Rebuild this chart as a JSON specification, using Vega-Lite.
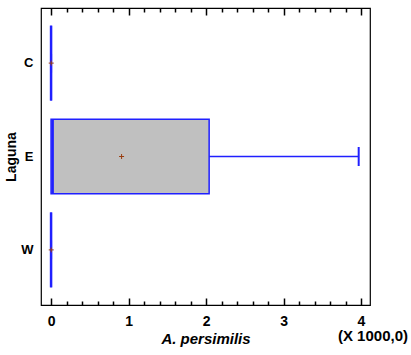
{
  "$schema": "https://vega.github.io/schema/vega-lite/v6.json",
  "width": 329,
  "height": 297,
  "autosize": {"type": "none"},
  "padding": {"left": 41, "top": 8, "right": 41, "bottom": 50},
  "background": "white",
  "config": {
    "view": {"stroke": "black", "strokeWidth": 1.2},
    "font": "Liberation Sans",
    "axis": {"grid": false, "domain": false, "ticks": true, "tickColor": "black", "tickWidth": 1.5, "tickOpacity": 1, "labelColor": "black", "titleColor": "black"}
  },
  "title": {"text": "(X 1000,0)", "orient": "bottom", "anchor": "end", "frame": "group", "fontSize": 15, "fontWeight": "bold", "font": "Liberation Sans", "color": "black", "dx": 38, "dy": -17, "offset": 0},
  "data": {
    "values": [
      {"Laguna": "C", "min": 0, "q1": 0, "median": 0, "q3": 0, "max": 0, "mean": 0.002},
      {"Laguna": "E", "min": 0, "q1": 0, "median": 0.02, "q3": 2.04, "max": 3.97, "mean": 0.91},
      {"Laguna": "W", "min": 0, "q1": 0, "median": 0, "q3": 0, "max": 0, "mean": 0.002}
    ]
  },
  "layer": [
    {
      "mark": {"type": "rule", "color": "#2020ff", "strokeWidth": 1.5},
      "encoding": {
        "y": {
          "field": "Laguna", "type": "nominal", "sort": ["C", "E", "W"],
          "scale": {"paddingInner": 0.2, "paddingOuter": 0.19},
          "axis": {"title": "Laguna", "ticks": false, "labelFontWeight": "bold", "labelFontSize": 13, "labelPadding": 8, "titleFontSize": 14, "titleFontWeight": "bold", "titlePadding": 2}
        },
        "x": {
          "field": "min", "type": "quantitative",
          "scale": {"domain": [-0.13, 4.116], "nice": false, "zero": false},
          "axis": {
            "orient": "bottom",
            "values": [0, 1, 2, 3, 4],
            "format": "d",
            "ticks": true,
            "tickSize": -7,
            "labelOverlap": false, "labelFlush": false,
            "labelFontSize": 14, "labelFontWeight": "bold", "labelPadding": 16,
            "title": "A. persimilis", "titleFontStyle": "italic", "titleFontWeight": "bold", "titleFontSize": 15, "titlePadding": 3
          }
        },
        "x2": {"field": "max"}
      }
    },
    {
      "mark": {"type": "bar", "fill": "#c0c0c0", "stroke": "#2020ff", "strokeWidth": 1.5},
      "encoding": {
        "y": {"field": "Laguna", "type": "nominal", "sort": ["C", "E", "W"]},
        "x": {
          "field": "q1", "type": "quantitative",
          "axis": {"orient": "top", "values": [0, 1, 2, 3, 4], "ticks": true, "tickSize": -7, "labels": false, "title": null}
        },
        "x2": {"field": "q3"}
      }
    },
    {
      "mark": {"type": "tick", "color": "#2020ff", "thickness": 2.5, "size": 75, "opacity": 1},
      "encoding": {
        "y": {"field": "Laguna", "type": "nominal", "sort": ["C", "E", "W"]},
        "x": {
          "field": "median", "type": "quantitative",
          "axis": {"orient": "bottom", "values": [0.2, 0.4, 0.6, 0.8, 1.2, 1.4, 1.6, 1.8, 2.2, 2.4, 2.6, 2.8, 3.2, 3.4, 3.6, 3.8], "ticks": true, "tickSize": -4, "labels": false, "title": null}
        }
      }
    },
    {
      "mark": {"type": "tick", "color": "#2020ff", "thickness": 2, "size": 19, "opacity": 1},
      "encoding": {
        "y": {"field": "Laguna", "type": "nominal", "sort": ["C", "E", "W"]},
        "x": {
          "field": "max", "type": "quantitative",
          "axis": {"orient": "top", "values": [0.2, 0.4, 0.6, 0.8, 1.2, 1.4, 1.6, 1.8, 2.2, 2.4, 2.6, 2.8, 3.2, 3.4, 3.6, 3.8], "ticks": true, "tickSize": -4, "labels": false, "title": null}
        }
      }
    },
    {
      "mark": {"type": "point", "shape": "M-1,0L1,0M0,-1L0,1", "filled": false, "stroke": "#9a3d10", "strokeWidth": 1, "size": 25, "opacity": 1},
      "encoding": {
        "y": {"field": "Laguna", "type": "nominal", "sort": ["C", "E", "W"]},
        "x": {"field": "mean", "type": "quantitative", "axis": null}
      }
    }
  ],
  "resolve": {"axis": {"x": "independent"}}
}
